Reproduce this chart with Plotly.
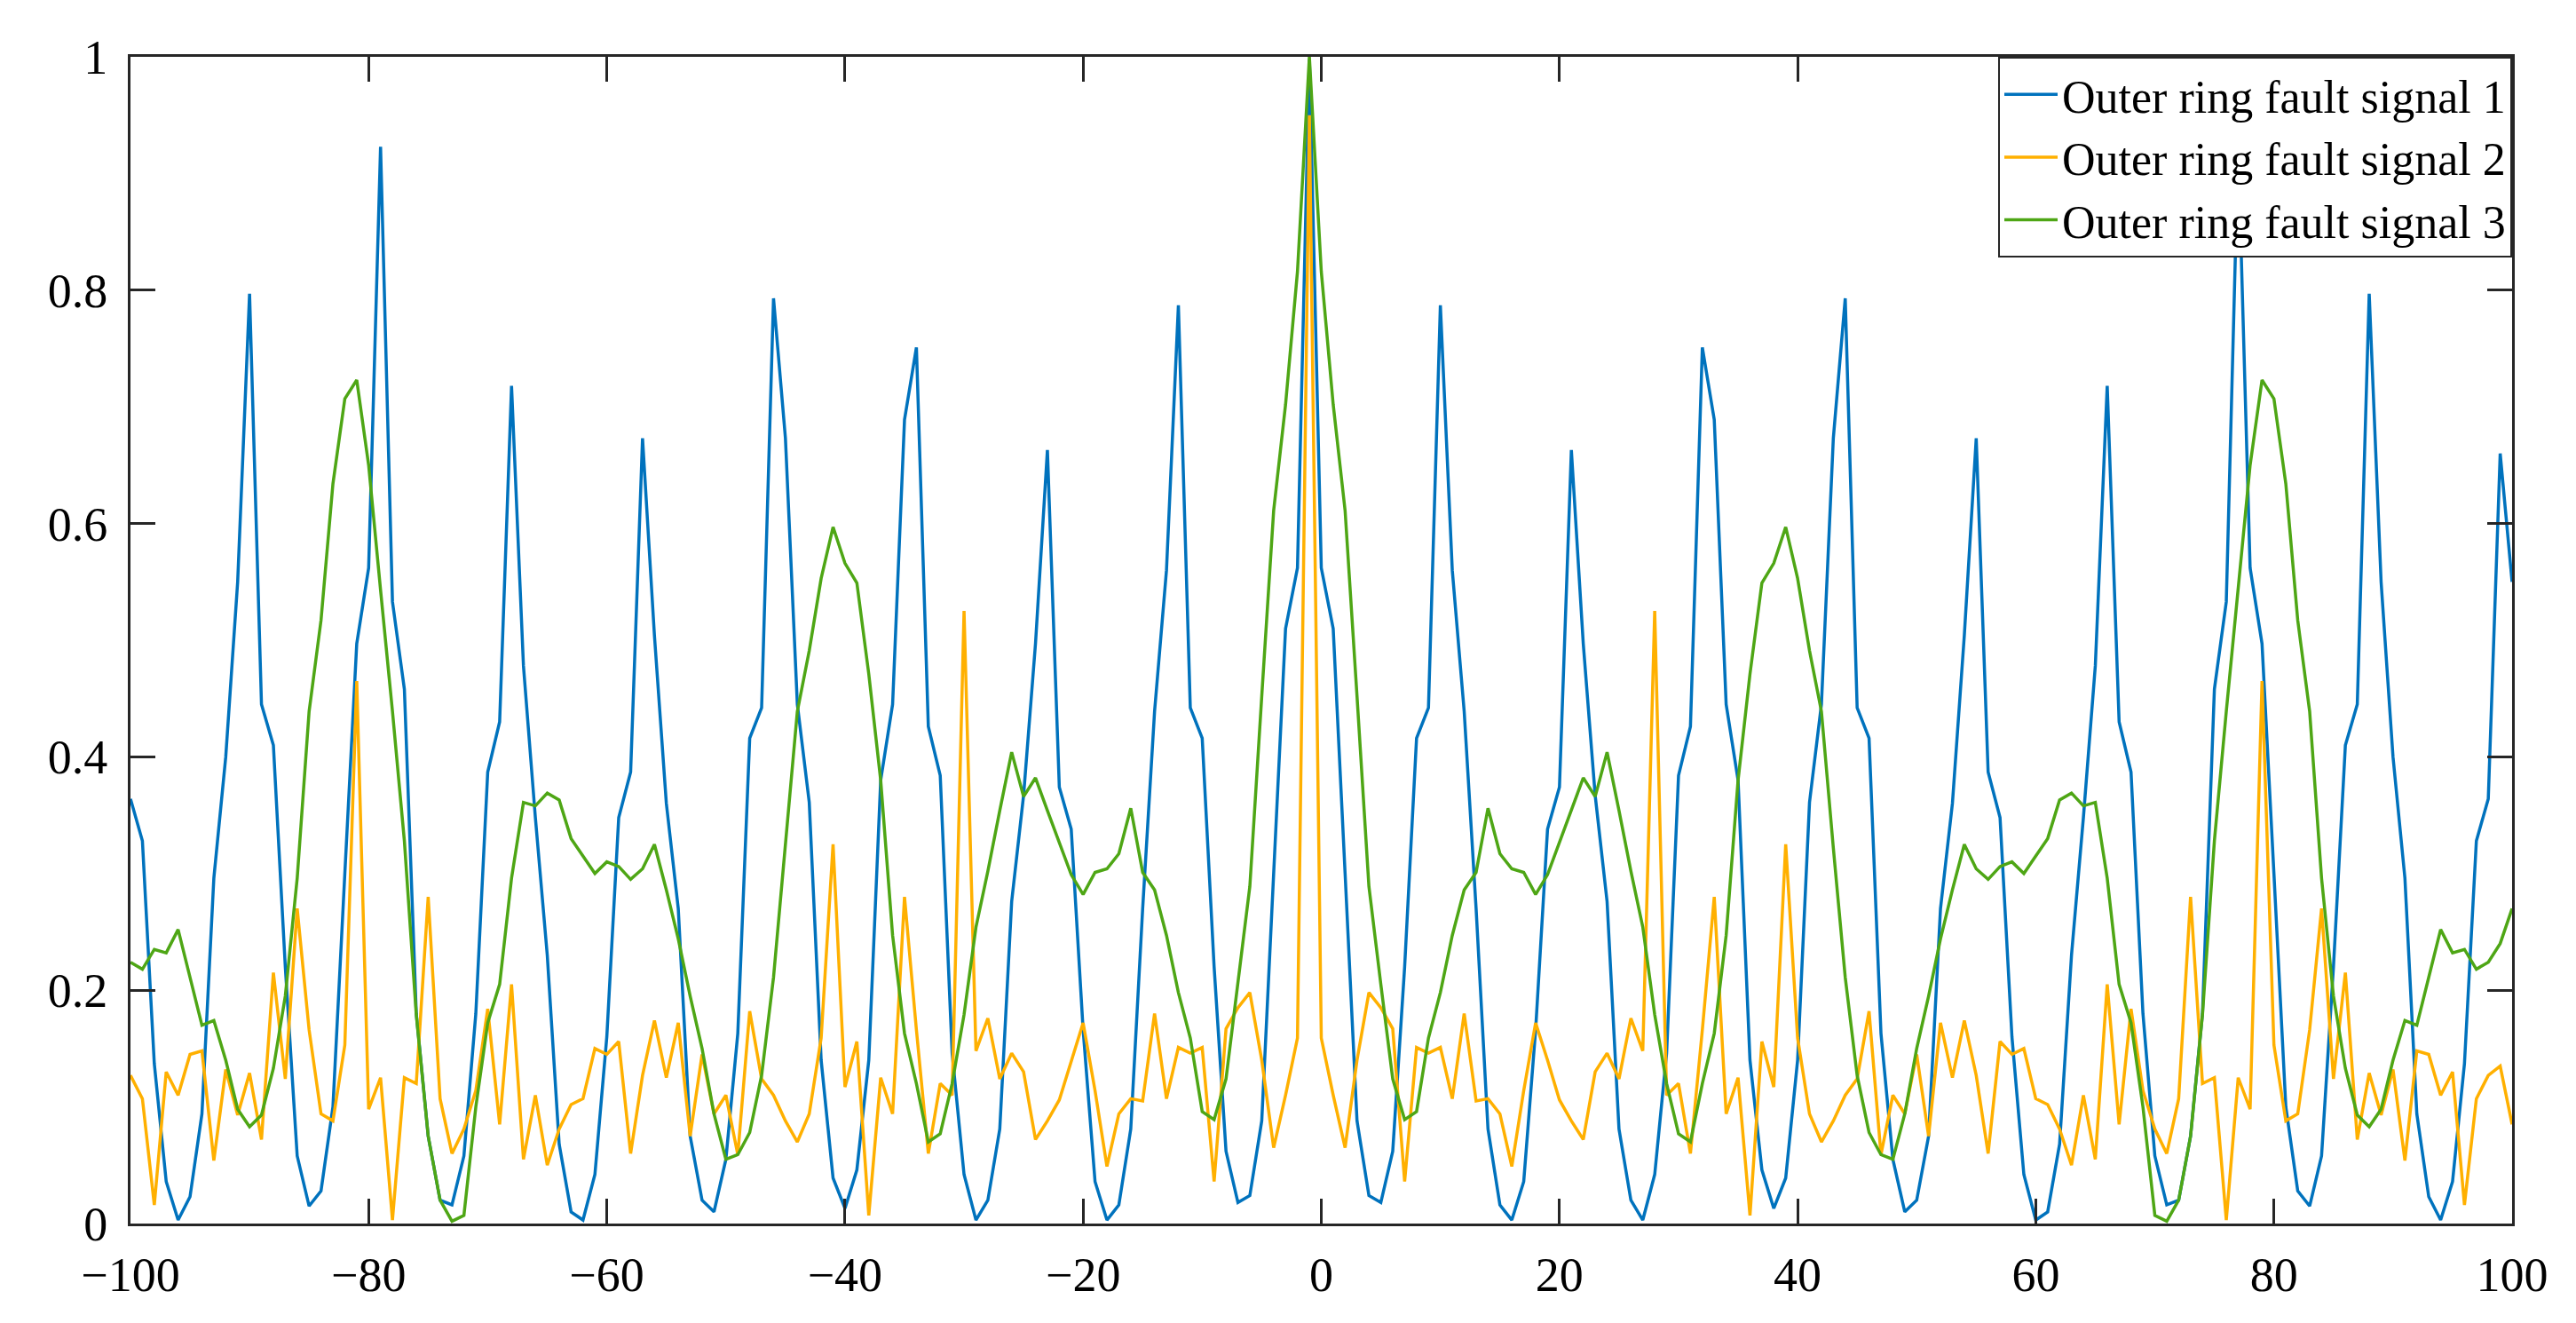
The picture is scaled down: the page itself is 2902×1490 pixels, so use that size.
import plotly.graph_objects as go

# lags, left half -100..-1 and right half 0..100
lags_left = list(range(-100, 0))
lags_right = list(range(0, 101))

blue_left = [.364, .328, .137, .036, .003, .023, .094, .296, .40, .55,
             .797, .445, .41, .22, .058, .015, .028, .10, .30, .497,
             .562, .923, .533, .458, .18, .075, .02, .016, .058, .18,
             .387, .43, .718, .478, .348, .23, .068, .01, .003, .042,
             .16, .348, .387, .673, .504, .36, .27, .075, .02, .01,
             .055, .163, .416, .442, .793, .673, .445, .361, .14, .039,
             .013, .046, .14, .38, .445, .689, .751, .426, .384, .146,
             .042, .003, .02, .081, .276, .367, .497, .663, .374, .338,
             .166, .036, .003, .016, .081, .27, .439, .56, .787, .442,
             .416, .22, .062, .018, .024, .088, .30, .51, .562, .998]
blue_right = [.562, .51, .30, .088, .024, .018, .062, .22, .416,
              .442, .787, .56, .439, .27, .081, .016, .003, .036, .166,
              .338, .374, .663, .497, .367, .276, .081, .02, .003, .042,
              .146, .384, .426, .751, .689, .445, .38, .14, .046, .013,
              .039, .14, .361, .445, .673, .793, .442, .416, .163, .055,
              .01, .02, .075, .27, .36, .504, .673, .387, .348, .16,
              .042, .003, .01, .068, .23, .348, .478, .718, .43, .387,
              .18, .058, .016, .02, .075, .18, .458, .533, .923, .562,
              .497, .30, .10, .028, .015, .058, .22, .41, .445, .797,
              .55, .40, .296, .094, .023, .003, .036, .137, .328, .364,
              .66, .55]

orange_left = [.127, .107, .016, .13, .11, .145, .148, .054, .132, .093,
               .129, .072, .215, .124, .27, .166, .094, .088, .153, .465,
               .098, .125, .003, .125, .12, .28, .107, .06, .081, .114,
               .184, .085, .205, .055, .11, .05, .081, .102, .107, .15,
               .145, .156, .06, .127, .174, .125, .172, .075, .145, .094,
               .11, .059, .182, .124, .11, .088, .07, .094, .159, .325,
               .117, .156, .007, .125, .094, .28, .166, .06, .12, .11,
               .525, .148, .176, .124, .146, .13, .072, .088, .106, .14,
               .172, .114, .049, .094, .107, .105, .18, .107, .151, .146,
               .151, .036, .167, .185, .198, .14, .065, .11, .159, .95]
orange_right = [.159, .11, .065, .14, .198, .185, .167, .036, .151,
                .146, .151, .107, .18, .105, .107, .094, .049, .114, .172,
                .14, .106, .088, .072, .13, .146, .124, .176, .148, .525,
                .11, .12, .06, .166, .28, .094, .125, .007, .156, .117,
                .325, .159, .094, .07, .088, .11, .124, .182, .059, .11,
                .094, .145, .075, .172, .125, .174, .127, .06, .156, .145,
                .15, .107, .102, .081, .05, .11, .055, .205, .085, .184,
                .114, .081, .06, .107, .28, .12, .125, .003, .125, .098,
                .465, .153, .088, .094, .166, .27, .124, .215, .072, .129,
                .093, .132, .054, .148, .145, .11, .13, .016, .107, .127,
                .135, .085]

green_left = [.224, .218, .235, .232, .252, .211, .17, .174, .14, .098,
              .083, .093, .133, .195, .296, .439, .517, .634, .707, .723,
              .65, .543, .439, .328, .179, .075, .02, .002, .007, .10,
              .172, .205, .296, .361, .358, .369, .363, .33, .315, .30,
              .31, .306, .295, .304, .325, .286, .244, .195, .15, .094,
              .055, .059, .078, .127, .211, .322, .439, .491, .553, .597,
              .566, .549, .471, .38, .247, .163, .12, .07, .077, .12,
              .179, .254, .302, .354, .404, .366, .382, .354, .327, .299,
              .282, .301, .304, .317, .356, .301, .286, .247, .198, .159,
              .096, .089, .124, .205, .289, .452, .611, .702, .816, 1.0]
green_right = [.816, .702, .611, .452, .289, .205, .124, .089, .096,
               .159, .198, .247, .286, .301, .356, .317, .304, .301, .282,
               .299, .327, .354, .382, .366, .404, .354, .302, .254, .179,
               .12, .077, .07, .12, .163, .247, .38, .471, .549, .566,
               .597, .553, .491, .439, .322, .211, .127, .078, .059, .055,
               .094, .15, .195, .244, .286, .325, .304, .295, .306, .31,
               .30, .315, .33, .363, .369, .358, .361, .296, .205, .172,
               .10, .007, .002, .02, .075, .179, .328, .439, .543, .65,
               .723, .707, .634, .517, .439, .296, .195, .133, .093, .083,
               .098, .14, .174, .17, .211, .252, .232, .235, .218, .224,
               .24, .27]

names = ["Outer ring fault signal 1", "Outer ring fault signal 2", "Outer ring fault signal 3"]
colors = ["#0072BD", "#FFB000", "#4EA615"]

lags = lags_left + lags_right
series = [blue_left + blue_right, orange_left + orange_right, green_left + green_right]

fig = go.Figure()
for name, color, vals in zip(names, colors, series):
    fig.add_trace(go.Scatter(x=lags, y=vals, mode="lines", name=name,
                             line=dict(color=color, width=3.5)))

axis_style = dict(showline=True, linecolor="#262626", linewidth=3, mirror="ticks",
                  ticks="inside", ticklen=28, tickwidth=3, tickcolor="#262626",
                  showgrid=False, zeroline=False,
                  tickfont=dict(family="Liberation Serif", size=54, color="#000000"))

fig.update_xaxes(range=[-100, 100], tickvals=list(range(-100, 101, 20)),
                 ticklabelstandoff=8, **axis_style)
fig.update_yaxes(range=[0, 1], tickvals=[0, 0.2, 0.4, 0.6, 0.8, 1],
                 ticktext=["0", "0.2", "0.4", "0.6", "0.8", "1"],
                 ticklabelstandoff=12, **axis_style)

fig.update_layout(
    width=2902, height=1490,
    plot_bgcolor="white", paper_bgcolor="white",
    margin=dict(l=139, r=80, t=56, b=120),
    legend=dict(x=1, y=1, xanchor="right", yanchor="top",
                bgcolor="white", bordercolor="#262626", borderwidth=2,
                font=dict(family="Liberation Serif", size=52, color="#000000"),
                tracegroupgap=0, itemwidth=60),
)

fig.write_html("out.html")
